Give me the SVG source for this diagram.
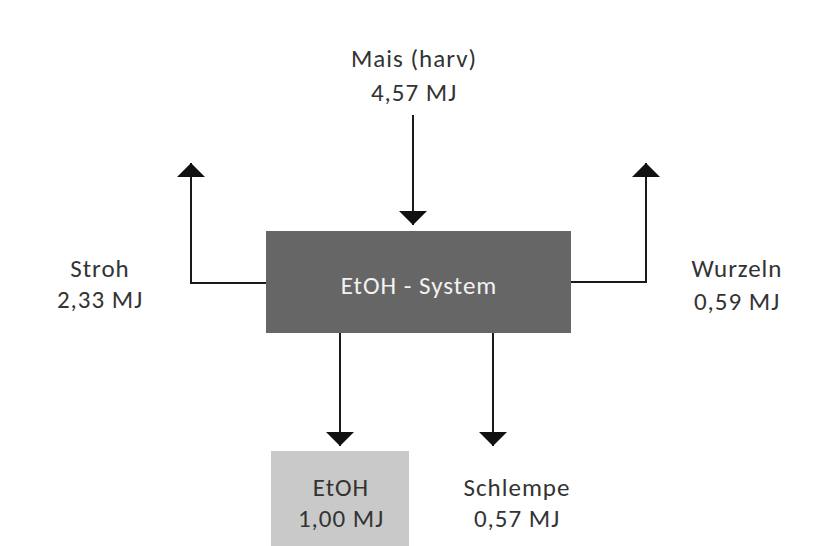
<svg xmlns="http://www.w3.org/2000/svg" width="815" height="546" viewBox="0 0 815 546">
<style>
.t{font-family:"Carlito","Open Sans","Liberation Sans",sans-serif;font-size:25px;letter-spacing:1px;fill:#333;text-anchor:middle}
.w{fill:#f2f2f2}
.c{stroke:#1a1a1a;stroke-width:2;fill:none}
</style>
<defs>
<marker id="ah" viewBox="0 0 14 28" refX="14" refY="14" markerWidth="14" markerHeight="28" markerUnits="userSpaceOnUse" orient="auto">
<path d="M0,0 L14,14 L0,28 Z" fill="#111"/>
</marker>
</defs>
<rect width="815" height="546" fill="#fff"/>
<g id="connectors">
<path class="c" d="M413,115 V225" marker-end="url(#ah)"/>
<path class="c" d="M266,283 H191 V163" marker-end="url(#ah)"/>
<path class="c" d="M571,282 H646 V163" marker-end="url(#ah)"/>
<path class="c" d="M340,333 V446" marker-end="url(#ah)"/>
<path class="c" d="M493,333 V446" marker-end="url(#ah)"/>
</g>
<g id="system">
<rect x="266" y="231" width="305" height="102" fill="#666"/>
<text class="t w" x="419" y="294">EtOH - System</text>
</g>
<g id="mais">
<text class="t" x="414" y="67">Mais (harv)</text>
<text class="t" x="414" y="101">4,57 MJ</text>
</g>
<g id="stroh">
<text class="t" x="100" y="277">Stroh</text>
<text class="t" x="100" y="308">2,33 MJ</text>
</g>
<g id="wurzeln">
<text class="t" x="737" y="277">Wurzeln</text>
<text class="t" x="737" y="310">0,59 MJ</text>
</g>
<g id="etoh">
<rect x="271" y="451" width="138" height="95" fill="#c9c9c9"/>
<text class="t" x="341" y="496">EtOH</text>
<text class="t" x="341" y="527">1,00 MJ</text>
</g>
<g id="schlempe">
<text class="t" x="517" y="496">Schlempe</text>
<text class="t" x="517" y="527">0,57 MJ</text>
</g>
</svg>
